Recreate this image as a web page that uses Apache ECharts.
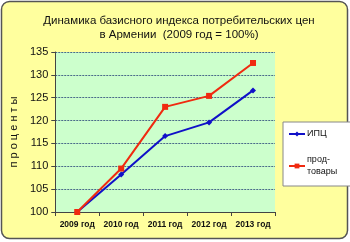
<!DOCTYPE html>
<html><head><meta charset="utf-8">
<script src="https://cdn.jsdelivr.net/npm/echarts@6/dist/echarts.min.js"></script>
<style>html,body{margin:0;padding:0;background:#fff;}#c{width:350px;height:242px;}</style>
</head><body><div id="c"></div>
<script>
var categories = ['2009 год','2010 год','2011 год','2012 год','2013 год'];
var cpi = [100, 108.2, 116.6, 119.6, 126.6];
var food = [100, 109.5, 123.0, 125.4, 132.6];
var yTicks = {min:100, max:135, interval:5};

var chart = echarts.init(document.getElementById('c'));
chart.setOption({
  animation:false,
  graphic:[{type:'rect', z:-10, shape:{x:1.5,y:1.5,width:346,height:237,r:8},
    style:{fill:'#FFFF9E', stroke:'#555', lineWidth:1.5}}],
  title:{text:'Динамика базисного индекса потребительских цен\nв Армении  (2009 год = 100%)',
    left:174, textAlign:'center', top:9,
    textStyle:{fontFamily:'Liberation Sans, Arial', fontSize:11.5, fontWeight:'normal', color:'#111', lineHeight:14}},
  legend:{orient:'vertical', left:283, top:122,
    backgroundColor:'#fff', borderColor:'#888', borderWidth:1,
    padding:[6,18,8,5], itemGap:14, itemWidth:16, itemHeight:6,
    textStyle:{fontFamily:'Liberation Sans, Arial', fontSize:9, color:'#111', lineHeight:12, padding:[0,0,0,-3]},
    data:['ИПЦ','прод-\nтовары']},
  grid:{left:42, right:75, top:52, bottom:30, show:true, backgroundColor:'#CCFFCC', borderWidth:0},
  xAxis:{type:'category', data:categories, boundaryGap:true,
    axisLine:{lineStyle:{color:'#444'}}, axisTick:{show:true, length:4, lineStyle:{color:'#444'}},
    axisLabel:{interval:0, hideOverlap:false, fontFamily:'Liberation Sans, Arial', fontSize:8.5, fontWeight:'bold', color:'#111', margin:8}},
  yAxis:{type:'value', min:yTicks.min, max:yTicks.max, interval:yTicks.interval,
    name:'п р о ц е н т ы', nameLocation:'middle', nameRotate:90, nameGap:29,
    nameTextStyle:{fontFamily:'Liberation Sans, Arial', fontSize:11, color:'#111'},
    axisLine:{show:true, lineStyle:{color:'#444'}}, axisTick:{show:true, length:4, lineStyle:{color:'#444'}},
    axisLabel:{fontFamily:'Liberation Sans, Arial', fontSize:11, color:'#111', margin:7},
    splitLine:{lineStyle:{color:'#4a6a8a', type:[2,1], width:1}}},
  series:[
    {name:'ИПЦ', type:'line', data:cpi, symbol:'diamond', symbolSize:6,
      lineStyle:{color:'#1010C8', width:2}, itemStyle:{color:'#1010C8'}},
    {name:'прод-\nтовары', type:'line', data:food, symbol:'rect', symbolSize:6, z:3,
      lineStyle:{color:'#F02A10', width:2}, itemStyle:{color:'#F02A10'}}
  ]
});
</script></body></html>
